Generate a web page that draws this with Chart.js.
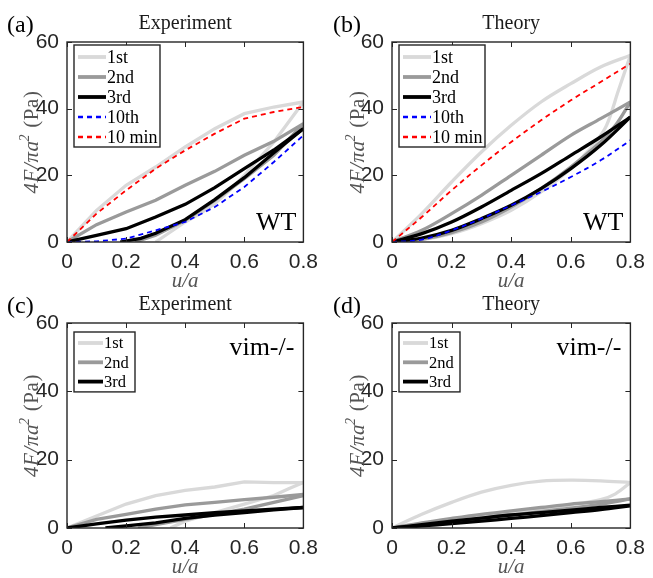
<!DOCTYPE html>
<html>
<head>
<meta charset="utf-8">
<script src="https://cdn.jsdelivr.net/npm/chart.js@4.4.1/dist/chart.umd.min.js"></script>
<style>
  body { margin: 0; background: #fff; }
  #wrap { position: relative; width: 653px; height: 578px; }
  #wrap canvas { position: absolute; }
</style>
</head>
<body>
<div id="wrap">
  <canvas id="pa" width="326" height="289" style="left:0;top:0"></canvas>
  <canvas id="pb" width="327" height="289" style="left:326px;top:0"></canvas>
  <canvas id="pc" width="326" height="289" style="left:0;top:289px"></canvas>
  <canvas id="pd" width="327" height="289" style="left:326px;top:289px"></canvas>
</div>
<script>
// ---- data ----
var uGrid = [0, 0.1, 0.2, 0.3, 0.4, 0.5, 0.6, 0.7, 0.8];
var uBack = [0.8, 0.7, 0.6, 0.5, 0.4, 0.3, 0.2, 0.1, 0];
var xTicks = [0, 0.2, 0.4, 0.6, 0.8];
var xTickLabels = ['0', '0.2', '0.4', '0.6', '0.8'];
var yTicks = [0, 20, 40, 60];
var yTickLabels = ['0', '20', '40', '60'];
var seriesNames = ['1st', '2nd', '3rd', '10th', '10 min'];
var panelTitles = ['Experiment', 'Theory', 'Experiment', 'Theory'];
var panelLetters = ['(a)', '(b)', '(c)', '(d)'];
var panelTags = ['WT', 'WT', 'vim-/-', 'vim-/-'];

// (a) experiment, WT
var aLoad1 = [0, 9.5, 17, 22.5, 28.5, 34, 38.5, 40.5, 42];
var aUnX1 = [0.8, 0.75, 0.7, 0.65, 0.6, 0.55, 0.5, 0.45, 0.4, 0.35, 0.3];
var aUn1 = [42, 36, 30, 25, 20, 15.5, 11.5, 8.5, 6, 3, 0];
var aLoad2 = [0, 5.2, 9, 12.5, 17, 21.2, 26, 30.2, 35.5];
var aUnX2 = [0.8, 0.7, 0.6, 0.5, 0.4, 0.3, 0.23];
var aUn2 = [35.5, 26, 19, 12.5, 6.5, 2, 0];
var aLoad3 = [0, 2, 4, 7.5, 11.3, 16.3, 22, 27.6, 34];
var aUnX3 = [0.8, 0.7, 0.6, 0.5, 0.4, 0.3, 0.25, 0.18];
var aUn3 = [34, 26.8, 19.3, 12.7, 6.7, 2.6, 1.1, 0];
var aLoad10 = [0, 0.2, 1, 3.5, 6, 10.5, 16.5, 24, 32];
var aLoad10min = [0, 8.5, 15.5, 22, 27.5, 32.5, 37, 39, 40.5];

// (b) theory, WT
var bLoad1 = [0, 8.5, 18, 27, 35, 42, 47.5, 52.5, 56];
var bUnX1 = [0.8, 0.76, 0.72, 0.68, 0.65, 0.6, 0.5, 0.4, 0.3, 0.2, 0.1, 0];
var bUn1 = [56, 45.5, 35, 29.5, 26.5, 22, 15, 9.5, 5.5, 2.5, 0.7, 0];
var bLoad2 = [0, 3.5, 8.5, 14, 20, 26, 32, 37, 42];
var bUnX2 = [0.8, 0.75, 0.7, 0.6, 0.5, 0.4, 0.3, 0.2, 0.1, 0];
var bUn2 = [42, 35, 30, 22.5, 16, 10.5, 6, 2.8, 0.8, 0];
var bLoad3 = [0, 2.5, 6, 10.5, 15.5, 20.5, 26, 31.5, 37.5];
var bUn3 = [37.5, 29, 22, 16, 11, 7, 3.5, 1.2, 0];
var bLoad10 = [0, 0.7, 3.5, 7, 11, 15, 19.5, 24.5, 30.5];
var bLoad10min = [0, 7.5, 15.5, 23, 30, 36.5, 42.5, 48, 53.5];

// (c) experiment, vim-/-
var cLoad1 = [0, 3.5, 7, 9.5, 11, 12, 13.5, 13.3, 13.3];
var cUnX1 = [0.8, 0.75, 0.7, 0.6, 0.5, 0.4, 0.35];
var cUn1 = [13.3, 11.5, 9.5, 7, 4.5, 2, 0];
var cLoad2 = [0, 2.5, 4, 5.5, 6.8, 7.5, 8.3, 9, 9.8];
var cUnX2 = [0.8, 0.7, 0.6, 0.5, 0.4, 0.3, 0.24];
var cUn2 = [9.5, 7.5, 5.5, 4, 2.5, 1, 0];
var cLoad3 = [0, 1.2, 2.3, 3.2, 3.8, 4.5, 5, 5.5, 6];
var cUnX3 = [0.8, 0.7, 0.6, 0.5, 0.4, 0.3, 0.2, 0.13];
var cUn3 = [6, 5.3, 4.5, 3.8, 2.8, 1.5, 0.6, 0];

// (d) theory, vim-/-
var dLoad1 = [0, 4, 7.5, 10.5, 12.5, 13.7, 14, 13.8, 13.3];
var dUnX1 = [0.8, 0.75, 0.7, 0.6, 0.5, 0.4, 0.3, 0.2, 0.1, 0];
var dUn1 = [13.3, 10, 8.3, 6.8, 5.6, 4.6, 3.5, 2.4, 1.2, 0];
var dLoad2 = [0, 1.5, 2.8, 4, 5, 6, 7, 7.7, 8.5];
var dUn2 = [8.5, 7, 5.8, 4.8, 3.8, 2.8, 1.8, 0.9, 0];
var dLoad3 = [0, 1, 2, 2.9, 3.8, 4.5, 5.2, 6, 6.7];
var dUn3 = [6.5, 5.4, 4.5, 3.6, 2.8, 2, 1.3, 0.6, 0];

// ---- styles ----
var styles = [
  { color: '#d9d9d9', width: 3.3, dash: [] },
  { color: '#9a9a9a', width: 3.3, dash: [] },
  { color: '#000000', width: 3.3, dash: [] },
  { color: '#0000ff', width: 1.8, dash: [5, 4] },
  { color: '#ff0000', width: 1.8, dash: [5, 4] }
];
var axisColor = '#262626';

function pts(xs, ys) {
  return xs.map(function (x, i) { return { x: x, y: ys[i] }; });
}

// one dataset per branch (loading / unloading); legend drawn per series
function branch(s, xs, ys, tension) {
  var st = styles[s];
  return {
    data: pts(xs, ys),
    borderColor: st.color,
    borderWidth: st.width,
    borderDash: st.dash,
    pointRadius: 0,
    showLine: true,
    fill: false,
    tension: tension,
    order: 10 - s
  };
}

var panels = [
  { id: 'pa', n: 0, box: [67, 42, 312, 242], legendRows: 5, tension: 0,
    curves: [[0, uGrid, aLoad1, aUnX1, aUn1], [1, uGrid, aLoad2, aUnX2, aUn2], [2, uGrid, aLoad3, aUnX3, aUn3],
             [3, uGrid, aLoad10], [4, uGrid, aLoad10min]] },
  { id: 'pb', n: 1, box: [66, 42, 311, 242], legendRows: 5, tension: 0.35,
    curves: [[0, uGrid, bLoad1, bUnX1, bUn1], [1, uGrid, bLoad2, bUnX2, bUn2], [2, uGrid, bLoad3, uBack, bUn3],
             [3, uGrid, bLoad10], [4, uGrid, bLoad10min]] },
  { id: 'pc', n: 2, box: [67, 34, 312, 239], legendRows: 3, tension: 0,
    curves: [[0, uGrid, cLoad1, cUnX1, cUn1], [1, uGrid, cLoad2, cUnX2, cUn2], [2, uGrid, cLoad3, cUnX3, cUn3]] },
  { id: 'pd', n: 3, box: [66, 34, 311, 239], legendRows: 3, tension: 0.35,
    curves: [[0, uGrid, dLoad1, dUnX1, dUn1], [1, uGrid, dLoad2, uBack, dUn2], [2, uGrid, dLoad3, uBack, dUn3]] }
];

var decor = {
  id: 'decor',
  afterDraw: function (chart) {
    var p = chart.options.plugins.decor.panel;
    var ctx = chart.ctx, a = chart.chartArea;
    var xs = chart.scales.x, ys = chart.scales.y;
    ctx.save();
    // inward ticks on all four sides, then the box
    ctx.strokeStyle = axisColor;
    ctx.lineWidth = 1;
    ctx.beginPath();
    xTicks.forEach(function (v) {
      var px = Math.round(xs.getPixelForValue(v)) + 0.5;
      ctx.moveTo(px, a.bottom); ctx.lineTo(px, a.bottom - 5);
      ctx.moveTo(px, a.top); ctx.lineTo(px, a.top + 5);
    });
    yTicks.forEach(function (v) {
      var py = Math.round(ys.getPixelForValue(v)) + 0.5;
      ctx.moveTo(a.left, py); ctx.lineTo(a.left + 5, py);
      ctx.moveTo(a.right, py); ctx.lineTo(a.right - 5, py);
    });
    ctx.stroke();
    ctx.lineWidth = 1.4;
    ctx.strokeRect(a.left, a.top, a.right - a.left, a.bottom - a.top);

    // legend box
    var big = p.legendRows === 5;
    var rowH = big ? 20 : 19.3;
    var lx = a.left + 7, ly = a.top + (big ? 3 : 9);
    var lw = big ? 86 : 61, lh = p.legendRows * rowH + 2;
    ctx.fillStyle = '#fff';
    ctx.fillRect(lx, ly, lw, lh);
    ctx.strokeStyle = axisColor;
    ctx.lineWidth = 1.4;
    ctx.strokeRect(lx, ly, lw, lh);
    ctx.font = (big ? 18 : 16.5) + 'px "Liberation Serif"';
    ctx.textBaseline = 'middle';
    ctx.textAlign = 'left';
    for (var i = 0; i < p.legendRows; i++) {
      var st = styles[i];
      var cy = ly + (big ? 12 : 11) + i * rowH;
      var lineLen = big ? 28 : 25;
      ctx.beginPath();
      ctx.strokeStyle = st.color;
      ctx.lineWidth = st.width + 0.5;
      ctx.setLineDash(st.dash);
      ctx.moveTo(lx + 4, cy); ctx.lineTo(lx + 4 + lineLen, cy);
      ctx.stroke();
      ctx.setLineDash([]);
      ctx.fillStyle = '#000';
      ctx.fillText(seriesNames[i], lx + 5 + lineLen, cy + 1);
    }

    // tag text (WT / vim-/-)
    ctx.font = '26px "Liberation Serif"';
    ctx.fillStyle = '#000';
    ctx.textAlign = 'right';
    ctx.textBaseline = 'alphabetic';
    if (big) ctx.fillText(panelTags[p.n], a.right - 7, a.bottom - 12);
    else ctx.fillText(panelTags[p.n], a.right - 9, a.top + 32);

    // panel title and letter
    var cx = (a.left + a.right) / 2;
    ctx.textAlign = 'center';
    ctx.font = '20px "Liberation Serif"';
    ctx.fillStyle = '#1a1a1a';
    ctx.fillText(panelTitles[p.n], cx, a.top - 13);
    ctx.textAlign = 'left';
    ctx.font = '24px "Liberation Serif"';
    ctx.fillStyle = '#000';
    ctx.fillText(panelLetters[p.n], 7, a.top - 10);

    // x axis title u/a
    ctx.textAlign = 'center';
    ctx.font = 'italic 21px "Liberation Serif"';
    ctx.fillStyle = '#555';
    ctx.fillText('u/a', cx, a.bottom + 45);

    // y axis title 4F/pi a^2 (Pa)
    ctx.translate(31, (a.top + a.bottom) / 2);
    ctx.rotate(-Math.PI / 2);
    ctx.letterSpacing = '0.6px';
    var parts = [
      ['italic 21px "Liberation Serif"', '4F/\u03c0a', 0, -1],
      ['italic 14px "Liberation Serif"', '2', -7, 6],
      ['21px "Liberation Serif"', '(Pa)', 0, 0]
    ];
    var total = 0;
    parts.forEach(function (q) { ctx.font = q[0]; total += ctx.measureText(q[1]).width + q[3]; });
    var x0 = -total / 2;
    ctx.textAlign = 'left';
    ctx.textBaseline = 'middle';
    parts.forEach(function (q) {
      ctx.font = q[0];
      ctx.fillText(q[1], x0, q[2] + 1);
      x0 += ctx.measureText(q[1]).width + q[3];
    });
    ctx.restore();
  }
};

panels.forEach(function (p) {
  var canvas = document.getElementById(p.id);
  var W = canvas.width, H = canvas.height;
  var datasets = [];
  p.curves.forEach(function (c) {
    datasets.push(branch(c[0], c[1], c[2], p.tension));
    if (c[3]) datasets.push(branch(c[0], c[3], c[4], p.tension));
  });
  new Chart(canvas, {
    type: 'scatter',
    data: { datasets: datasets },
    options: {
      responsive: false,
      animation: false,
      layout: { autoPadding: false, padding: { left: 0, top: p.box[1], right: W - p.box[2], bottom: 0 } },
      plugins: {
        legend: { display: false },
        tooltip: { enabled: false },
        decor: { panel: p }
      },
      scales: {
        x: {
          type: 'linear', min: 0, max: 0.8,
          afterFit: function (s) { s.height = H - p.box[3]; },
          afterBuildTicks: function (s) { s.ticks = xTicks.map(function (v) { return { value: v }; }); },
          grid: { display: false, drawTicks: false },
          border: { display: false },
          ticks: {
            padding: 8,
            color: axisColor,
            font: { family: '"Liberation Sans"', size: 21 },
            callback: function (v) { return xTickLabels[xTicks.indexOf(v)]; }
          }
        },
        y: {
          type: 'linear', min: 0, max: 60,
          afterFit: function (s) { s.width = p.box[0]; },
          afterBuildTicks: function (s) { s.ticks = yTicks.map(function (v) { return { value: v }; }); },
          grid: { display: false, drawTicks: false },
          border: { display: false },
          ticks: {
            padding: 8,
            color: axisColor,
            font: { family: '"Liberation Sans"', size: 21 },
            callback: function (v) { return yTickLabels[yTicks.indexOf(v)]; }
          }
        }
      }
    },
    plugins: [decor]
  });
});
</script>
</body>
</html>
